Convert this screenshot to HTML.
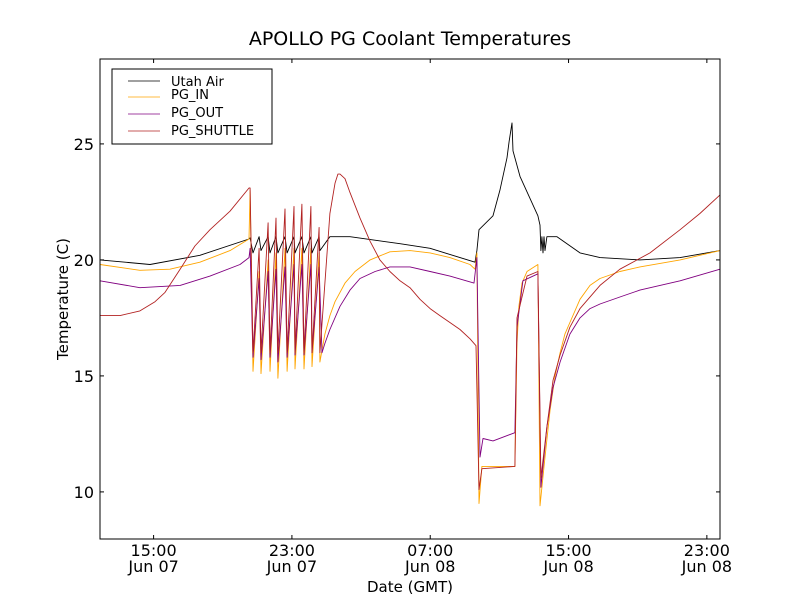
<!DOCTYPE html>
<html><head><meta charset="utf-8"><style>
html,body{margin:0;padding:0;background:#fff;}
svg{display:block;font-family:"DejaVu Sans","Liberation Sans",sans-serif;}
</style></head><body>
<svg id="chart" width="800" height="600" viewBox="0 0 800 600">
<rect x="0" y="0" width="800" height="600" fill="#fff"/>
<text x="410" y="45" text-anchor="middle" font-size="19">APOLLO PG Coolant Temperatures</text>
<g id="series"></g>
<rect x="100" y="59" width="620" height="480" fill="none" stroke="#000" stroke-width="1"/>
<g id="axes"></g>
<text x="410" y="592" text-anchor="middle" font-size="15">Date (GMT)</text>
<text transform="translate(68,299) rotate(-90)" text-anchor="middle" font-size="15">Temperature (C)</text>
<g>
<rect x="112" y="69" width="160" height="75" fill="#fff" stroke="#000" stroke-width="1"/>
<line x1="128" y1="81" x2="160" y2="81" stroke="#000" stroke-width="0.8"/>
<text x="171" y="86" font-size="13">Utah Air</text>
<line x1="128" y1="97" x2="160" y2="97" stroke="#FFA500" stroke-width="0.8"/>
<text x="171" y="99" font-size="13">PG_IN</text>
<line x1="128" y1="114" x2="160" y2="114" stroke="#800080" stroke-width="0.8"/>
<text x="171" y="117" font-size="13">PG_OUT</text>
<line x1="128" y1="131" x2="160" y2="131" stroke="#B22222" stroke-width="0.8"/>
<text x="171" y="135" font-size="13">PG_SHUTTLE</text>
</g>
</svg>
<script>
// hours since Jun 07 00:00 GMT
const xTicks = [15, 23, 31, 39, 47];
const xTickTime = ["15:00", "23:00", "07:00", "15:00", "23:00"];
const xTickDate = ["Jun 07", "Jun 07", "Jun 08", "Jun 08", "Jun 08"];
const yTicks = [10, 15, 20, 25];

const airT = [11.90,14.79,17.68,20.52,20.58,20.75,21.10,21.21,21.62,21.73,22.08,22.19,22.60,22.72,23.12,23.18,23.58,23.70,24.10,24.16,24.57,24.62,25.20,26.36,29.25,30.99,32.72,33.59,33.70,33.82,34.63,35.03,35.44,35.56,35.73,35.79,36.19,37.23,37.35,37.40,37.46,37.52,37.58,37.64,37.75,38.33,39.66,40.82,43.13,45.45,47.76];
const airV = [20.0,19.8,20.2,20.9,20.95,20.3,21.0,20.4,21.0,20.3,21.0,20.3,21.0,20.3,21.0,20.3,21.0,20.3,21.0,20.3,21.0,20.4,21.0,21.0,20.7,20.5,20.1,19.9,20.4,21.3,21.9,23.0,24.4,25.1,25.9,24.7,23.6,21.9,21.5,20.4,21.0,20.3,21.0,20.4,21.0,21.0,20.3,20.1,20.0,20.1,20.4];

const inT = [11.90,14.21,15.95,17.68,19.42,20.52,20.58,20.75,21.10,21.21,21.62,21.73,22.08,22.19,22.60,22.72,23.12,23.18,23.58,23.70,24.10,24.16,24.57,24.62,24.91,25.20,25.49,26.07,26.65,27.52,28.67,29.83,30.99,32.14,33.30,33.59,33.70,33.82,33.99,35.90,36.02,36.13,36.31,36.60,37.23,37.35,37.64,37.93,38.22,38.51,38.79,39.08,39.66,40.24,40.82,41.97,43.13,45.45,47.76];
const inV = [19.8,19.55,19.6,19.9,20.4,20.9,23.0,15.2,19.5,15.1,20.0,15.2,20.3,14.9,20.5,15.2,20.5,15.3,20.5,15.3,20.5,15.4,20.3,15.6,16.8,17.6,18.2,19.0,19.5,20.0,20.35,20.4,20.3,20.1,19.8,19.6,20.3,9.5,11.1,11.1,16.4,18.0,19.0,19.5,19.8,9.4,11.5,13.5,15.0,16.0,16.8,17.3,18.3,18.9,19.2,19.5,19.7,20.0,20.4];

const outT = [11.90,14.21,16.53,18.26,20.00,20.52,20.58,20.75,21.10,21.21,21.62,21.73,22.08,22.19,22.60,22.72,23.12,23.18,23.58,23.70,24.10,24.16,24.57,24.74,24.91,25.20,25.78,26.36,26.94,27.81,28.67,29.83,30.99,32.14,33.53,33.70,33.88,34.05,34.63,35.90,36.02,36.36,37.23,37.40,37.75,38.10,38.51,39.08,39.66,40.24,40.82,41.97,43.13,45.45,47.76];
const outV = [19.1,18.8,18.9,19.3,19.8,20.1,20.5,15.8,19.2,15.7,19.5,15.8,19.6,15.6,19.7,15.8,19.8,15.9,19.8,15.9,19.8,16.0,19.7,16.0,16.4,17.0,18.0,18.7,19.2,19.5,19.7,19.7,19.5,19.3,19.0,20.1,11.5,12.3,12.2,12.55,17.1,19.1,19.4,10.2,12.8,14.5,15.6,16.8,17.5,17.9,18.1,18.4,18.7,19.1,19.6];

const shT = [11.90,13.06,14.21,15.08,15.66,16.53,17.39,18.26,19.42,20.52,20.58,20.75,21.10,21.21,21.62,21.73,22.08,22.19,22.60,22.72,23.12,23.18,23.58,23.70,24.10,24.16,24.57,24.62,24.91,25.20,25.49,25.66,25.78,26.07,26.36,26.94,27.52,28.09,28.67,29.25,29.83,30.41,30.99,31.56,32.14,32.72,33.30,33.65,33.82,33.99,35.90,36.02,36.60,37.23,37.40,37.75,38.10,38.51,39.08,39.66,40.82,41.97,43.71,45.45,46.60,47.76];
const shV = [17.6,17.6,17.8,18.2,18.6,19.6,20.6,21.3,22.1,23.1,23.1,16.0,20.5,16.0,21.6,16.0,21.8,16.0,22.2,16.0,22.3,16.0,22.4,16.0,22.3,16.0,21.4,16.0,19.0,22.0,23.3,23.7,23.7,23.5,22.9,21.8,20.8,20.0,19.5,19.1,18.8,18.3,17.9,17.6,17.3,17.0,16.6,16.3,10.1,11.0,11.1,17.5,19.3,19.5,10.6,12.8,14.8,15.9,17.1,17.9,18.9,19.6,20.3,21.3,22.0,22.8];

const X0 = 100, X1 = 720, Y0 = 59, Y1 = 539;
const tMin = 11.9, tMax = 47.76, vMin = 7.97, vMax = 28.66;
function sx(t){ return X0 + (t - tMin) / (tMax - tMin) * (X1 - X0); }
function sy(v){ return Y1 - (v - vMin) / (vMax - vMin) * (Y1 - Y0); }
const NS = "http://www.w3.org/2000/svg";

const axes = document.getElementById('axes');
xTicks.forEach((t, i) => {
  const x = sx(t);
  const l1 = document.createElementNS(NS, 'line');
  l1.setAttribute('x1', x); l1.setAttribute('x2', x); l1.setAttribute('y1', Y1); l1.setAttribute('y2', Y1 - 4);
  l1.setAttribute('stroke', '#000');
  
  
  axes.appendChild(l1);
  const l2 = document.createElementNS(NS, 'line');
  l2.setAttribute('x1', x); l2.setAttribute('x2', x); l2.setAttribute('y1', Y0); l2.setAttribute('y2', Y0 + 4);
  l2.setAttribute('stroke', '#000');
  
  
  axes.appendChild(l2);
  const tx = document.createElementNS(NS, 'text');
  tx.setAttribute('x', x); tx.setAttribute('y', 556);
  tx.setAttribute('text-anchor', 'middle'); tx.setAttribute('font-size', '16');
  
  
  const a = document.createElementNS(NS, 'tspan'); a.setAttribute('x', x); a.textContent = xTickTime[i];
  const b = document.createElementNS(NS, 'tspan'); b.setAttribute('x', x); b.setAttribute('dy', '16'); b.textContent = xTickDate[i];
  tx.appendChild(a); tx.appendChild(b);
  axes.appendChild(tx);
});
yTicks.forEach(v => {
  const y = sy(v);
  const l1 = document.createElementNS(NS, 'line');
  l1.setAttribute('x1', X0); l1.setAttribute('x2', X0 + 4); l1.setAttribute('y1', y); l1.setAttribute('y2', y);
  l1.setAttribute('stroke', '#000');
  
  
  axes.appendChild(l1);
  const l2 = document.createElementNS(NS, 'line');
  l2.setAttribute('x1', X1); l2.setAttribute('x2', X1 - 4); l2.setAttribute('y1', y); l2.setAttribute('y2', y);
  l2.setAttribute('stroke', '#000');
  
  
  axes.appendChild(l2);
  const tx = document.createElementNS(NS, 'text');
  tx.setAttribute('x', X0 - 6); tx.setAttribute('y', y + 6);
  tx.setAttribute('text-anchor', 'end'); tx.setAttribute('font-size', '16');
  
  
  tx.textContent = v;
  axes.appendChild(tx);
});

const seriesG = document.getElementById('series');
function drawLine(ts, vs, color, name){
  const p = document.createElementNS(NS, 'polyline');
  p.setAttribute('points', ts.map((t, i) => sx(t).toFixed(1) + ',' + sy(vs[i]).toFixed(1)).join(' '));
  p.setAttribute('fill', 'none');
  p.setAttribute('stroke', color);
  p.setAttribute('stroke-width', '0.9');
  p.setAttribute('stroke-linejoin', 'round');
  
  
  seriesG.appendChild(p);
}
drawLine(airT, airV, '#000000', 'line-utah-air');
drawLine(inT, inV, '#FFA500', 'line-pg-in');
drawLine(outT, outV, '#800080', 'line-pg-out');
drawLine(shT, shV, '#B22222', 'line-pg-shuttle');
</script>
</body></html>
